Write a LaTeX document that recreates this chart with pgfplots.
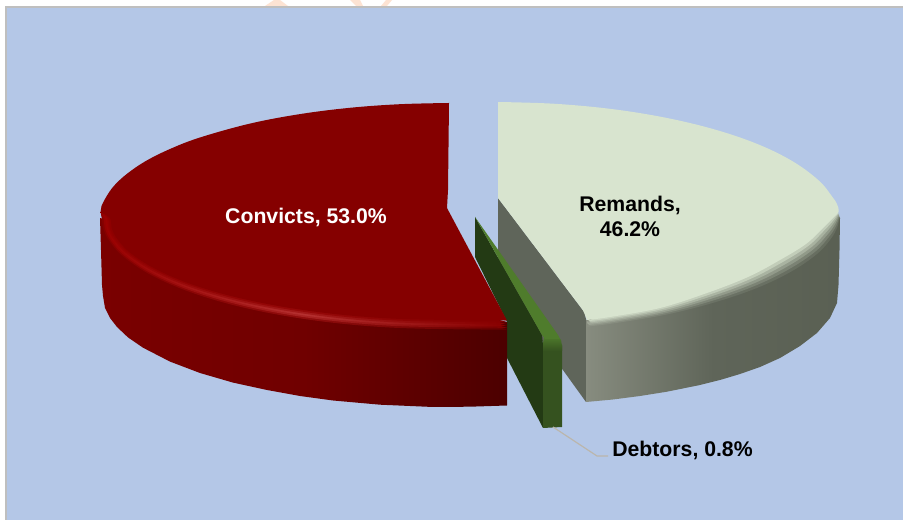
\documentclass[border=0pt]{standalone}
\usepackage{pgfplots}
\usepackage{pgfplotstable}
\usepackage{fontspec}
\setmainfont{Liberation Sans}
\pgfplotsset{compat=1.18}
\definecolor{bgblue}{HTML}{B4C7E7}
\definecolor{frame}{HTML}{BFBFBF}
\definecolor{mark}{HTML}{FDE3D3}
\definecolor{redface}{HTML}{850000}
\definecolor{sideL}{HTML}{7A0000}
\definecolor{sideM}{HTML}{700000}
\definecolor{sideR}{HTML}{4C0000}
\definecolor{aL}{HTML}{860000}\definecolor{aM}{HTML}{8E0C0C}\definecolor{aR}{HTML}{6A0000}
\definecolor{bL}{HTML}{950000}\definecolor{bM}{HTML}{A82222}\definecolor{bR}{HTML}{800000}
\definecolor{cL}{HTML}{9A0000}\definecolor{cM}{HTML}{B53030}\definecolor{cR}{HTML}{880000}
\definecolor{dL}{HTML}{930000}\definecolor{dM}{HTML}{A31A1A}\definecolor{dR}{HTML}{880000}
\definecolor{eL}{HTML}{8E0000}\definecolor{eM}{HTML}{950808}\definecolor{eR}{HTML}{860000}
\definecolor{remface}{HTML}{D8E4CF}
\definecolor{reminner}{HTML}{5F655A}
\definecolor{remL}{HTML}{878C7F}
\definecolor{remM}{HTML}{5F6559}
\definecolor{remR}{HTML}{5A6053}
\definecolor{gtop}{HTML}{4F7C2C}
\definecolor{gface}{HTML}{233A14}
\definecolor{gside}{HTML}{35521F}
\definecolor{leader}{HTML}{BBB6AC}
\pgfplotstableread{
x1    y1    x2    y2    x3    y3    x4    y4    x5    y5    x6    y6
100.5 212   100.5 212   100.5 212   100.5 212   100.5 212   100.5 212
101.7 218   103.3 218   105   218   106.7 218   108.3 218   110   218
103.6 229.6 105.2 229.4 106.9 229.2 108.6 229   110.2 228.8 111.9 228.7
109.4 241.1 110.9 240.7 112.6 240.4 114.2 240   115.8 239.6 117.5 239.2
122.6 256   124.1 255.4 125.7 254.8 127.3 254.1 128.8 253.5 130.4 252.9
148.4 273.6 149.8 272.7 151.2 271.8 152.7 270.9 154.1 269.9 155.6 269
183.2 289.5 184.4 288.3 185.7 287.1 187   286   188.3 284.7 189.6 283.6
226   303.2 227.1 301.7 228.2 300.3 229.3 299   230.3 297.5 231.4 296.1
275.9 314.3 276.7 312.7 277.5 311.1 278.4 309.5 279.2 307.9 280   306.3
330.9 322.5 331.4 320.7 332   319   332.6 317.4 333.1 315.6 333.7 313.9
389.4 327.5 389.7 325.7 390   323.9 390.3 322.1 390.5 320.2 390.8 318.5
450   329.2 450   327.3 450   325.5 450   323.7 450   321.8 450   320
507   329.6 507   327.8 507   326   507   324.2 507   322.3 507   320.5
}\redarc
\pgfplotstableread{
x1    y1    x2    y2    x3    y3    x4    y4    x5    y5
587   326.5 587   325.2 587   323.9 587   322.6 587   321.3
612.5 323.5 612   322.2 611.5 320.9 611   319.6 610.5 318.3
666.2 314.6 665   313.3 663.7 312   662.5 310.6 661.2 309.3
715.2 302.2 713.5 300.4 711.9 298.5 710.3 296.7 708.6 294.9
757.4 287.8 755.5 285.6 753.7 283.5 751.8 281.3 749.9 279.2
791.5 271.4 789.2 269.1 786.9 266.8 784.6 264.6 782.3 262.3
817.1 253.9 814.9 251.9 812.6 249.9 810.4 248   808.2 246
830.7 239   828.9 237   827.2 235   825.5 233   823.7 231
837.1 227.7 836.1 226   835   224.3 834   222.5 833   220.8
839.8 216.9 839.5 215.9 839.3 214.8 839.1 213.7 838.8 212.7
}\remarc
\newcommand{\redlevel}[4]{\addplot[draw=none,left color=#2,right color=#4,middle color=#3,smooth,tension=0.6,forget plot] table[x=x#1,y=y#1]{\redarc} --cycle;}
\newcommand{\remlevel}[2]{\addplot[draw=none,left color=remface!#2!remL,right color=remface!#2!remR,middle color=remface!#2!remM,smooth,tension=0.6,forget plot] table[x=x#1,y=y#1]{\remarc} --cycle;}
\begin{document}
\begin{tikzpicture}
\begin{axis}[
  scale only axis, width=903bp, height=520bp,
  xmin=0, xmax=903, ymin=0, ymax=520, y dir=reverse,
  hide axis, clip=true]
% page, frame and watermark remains
\addplot[fill=white,draw=none,forget plot] coordinates {(0,0)(903,0)(903,520)(0,520)} --cycle;
\addplot[fill=mark,draw=none,forget plot] coordinates {(265,6)(274,0)(280,0)(288,6)} --cycle;
\addplot[fill=mark,draw=none,forget plot] coordinates {(350,0)(360,0)(363,6)(356,6)} --cycle;
\addplot[fill=mark,draw=none,forget plot] coordinates {(381,6)(386,0)(392,0)(387,6)} --cycle;
\addplot[fill=frame,draw=none,forget plot] coordinates {(5,6)(903,6)(903,520)(5,520)} --cycle;
\addplot[fill=bgblue,draw=none,forget plot] coordinates {(7,8)(903,8)(903,520)(7,520)} --cycle;
% Remands
\addplot[fill=reminner,draw=none,forget plot] coordinates {(498,198)(585,313)(587,327)(586,402)(498,280)} --cycle;
\addplot[draw=none,left color=remL,right color=remR,middle color=remM,forget plot] coordinates {
 (586,320)(840,218)(839.5,250)(838.5,285)(837,303)(830,318)(817,333)(800,346)(780,358)(760,367)(740,374)
 (720,380)(700,385)(667,391.7)(640,396)(613,399.5)(586,402)} --cycle;
\remlevel{1}{10}
\remlevel{2}{25}
\remlevel{3}{43}
\remlevel{4}{62}
\remlevel{5}{82}
\addplot[fill=remface,draw=none,smooth,tension=0.6,forget plot] coordinates {
 (587,320)(610,317)(660,308)(707,293)(748,277)(780,260)(806,244)(822,229)(832,219)(838.6,211.6)
 (836.9,204)(832.4,197)(819.3,181)(793.8,162)(759.3,144.8)(716.8,130.1)(667.5,118.1)(613,109.2)(555,103.8)(498,102)} --cycle;
\addplot[fill=remface,draw=none,forget plot] coordinates {(498,102)(498,198)(585,313)(587,320)(620,290)(540,110)} --cycle;
% Debtors
\addplot[fill=gface,draw=none,forget plot] coordinates {(475,217)(542,335)(543,345)(543,428)(507,358)(507,322)(475,257)} --cycle;
\addplot[fill=gside,draw=none,forget plot] coordinates {(543,345)(562,345)(562,427)(543,428)} --cycle;
\addplot[draw=none,top color=gtop,bottom color=gside,forget plot] coordinates {(543,343)(544,338)(548,336)(557,336)(561,340)(562,346)(562,351)(543,351)} --cycle;
\addplot[fill=gtop,draw=none,forget plot] coordinates {(475,217)(558,335)(560,339)(545,339)(542,335)} --cycle;
\addplot[color=leader,line width=1.2bp,forget plot] coordinates {(553,427)(597,456)(608,456)};
% Convicts
\addplot[draw=none,left color=sideL,right color=sideR,middle color=sideM,forget plot] coordinates {
 (100,218)(507,322)(507,405.5)(470,406.7)(433,407)(380,404.7)(333,400.5)(300,396)(267,390)(233,382.6)(200,373)(170,361.6)
 (143,347.7)(128,337.4)(117,327)(110,318)(105,308)(103,296)(102,285)(101,250)} --cycle;
\redlevel{1}{aL}{aM}{aR}
\redlevel{2}{bL}{bM}{bR}
\redlevel{3}{cL}{cM}{cR}
\redlevel{4}{dL}{dM}{dR}
\redlevel{5}{eL}{eM}{eR}
\addplot[fill=redface,draw=none,smooth,tension=0.6,forget plot] table[x=x6,y=y6]{\redarc} --cycle;
\addplot[fill=redface,draw=none,smooth,tension=0.6,forget plot] coordinates {
 (449,103)(400,104.2)(350,107.8)(300,114.1)(250,123.6)(200,137.5)(170,149)(145,161.5)(125,175.4)(112,188.2)(104,200.8)} --cycle;
\addplot[fill=redface,draw=none,forget plot] coordinates {(449,103)(448,190)(447,208)(503,313)(507,320.5)(400,310)(300,295)(200,270)(130,225)(100.5,212)(101.5,206)(104,200.8)(130,185)(250,135)(350,112)} --cycle;
% labels
\node[font=\fontsize{21.3}{25}\selectfont\bfseries,text=white] at (axis cs:306,217) {Convicts, 53.0\%};
\node[font=\fontsize{21.3}{25}\selectfont\bfseries,text=black,align=center] at (axis cs:630,216) {Remands,\\46.2\%};
\node[font=\fontsize{21.3}{25}\selectfont\bfseries,text=black] at (axis cs:682.5,450) {Debtors, 0.8\%};
\end{axis}
\end{tikzpicture}
\end{document}
